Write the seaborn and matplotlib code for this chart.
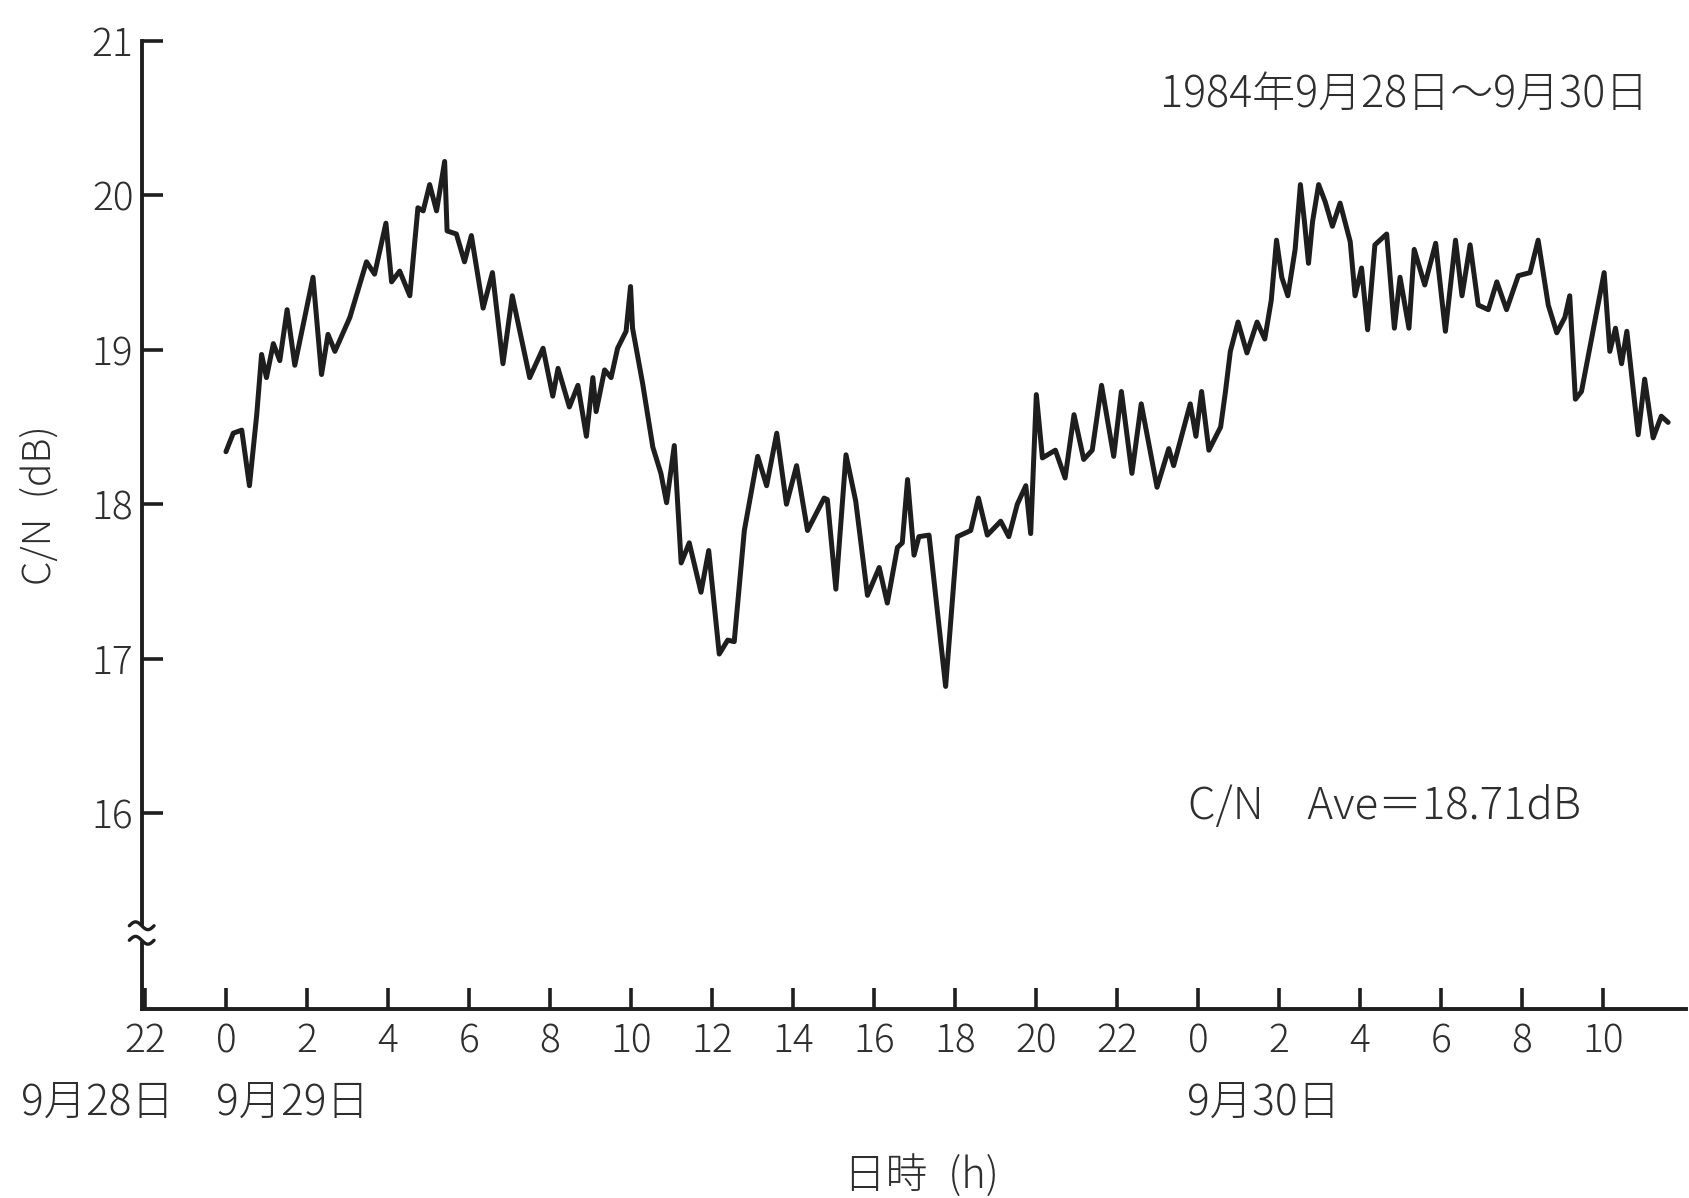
import matplotlib
matplotlib.use("Agg")
import matplotlib.pyplot as plt
import matplotlib.transforms as mtransforms
import numpy as np
import pandas as pd
import seaborn as sns

# C/N readings, 29 Sept 1984 (clock hours) ------------------------------
hours_29 = [
    0.00, 0.18, 0.39, 0.58, 0.76, 0.88, 1.00, 1.17, 1.33, 1.51, 1.70, 2.15,
    2.36, 2.52, 2.69, 3.06, 3.47, 3.67, 3.95, 4.09, 4.29, 4.54, 4.74, 4.87,
    5.03, 5.20, 5.40, 5.46, 5.69, 5.89, 6.06, 6.35, 6.58, 6.84, 7.07, 7.50,
    7.83, 8.07, 8.20, 8.48, 8.69, 8.90, 9.06, 9.14, 9.35, 9.51, 9.67, 9.88,
    9.99, 10.04, 10.29, 10.54, 10.74, 10.88, 11.07, 11.24, 11.44, 11.73,
    11.92, 12.18, 12.39, 12.55, 12.80, 13.13, 13.35, 13.60, 13.84, 14.09,
    14.36, 14.77, 14.85, 15.06, 15.31, 15.55, 15.84, 16.13, 16.33, 16.58,
    16.70, 16.83, 16.99, 17.11, 17.36, 17.77, 18.06, 18.39, 18.58, 18.80,
    19.13, 19.33, 19.54, 19.75, 19.87, 20.01, 20.16, 20.48, 20.72, 20.94,
    21.18, 21.39, 21.62, 21.92, 22.11, 22.37, 22.60, 22.99, 23.28, 23.40,
    23.81, 23.95,
]
cn_29 = [
    18.34, 18.46, 18.48, 18.12, 18.58, 18.97, 18.82, 19.04, 18.93, 19.26, 18.90, 19.47,
    18.84, 19.10, 18.99, 19.21, 19.57, 19.49, 19.82, 19.44, 19.51, 19.35, 19.92, 19.90,
    20.07, 19.90, 20.22, 19.77, 19.75, 19.57, 19.74, 19.27, 19.50, 18.91, 19.35, 18.82,
    19.01, 18.70, 18.88, 18.63, 18.77, 18.44, 18.82, 18.60, 18.87, 18.82, 19.01, 19.12,
    19.41, 19.14, 18.78, 18.37, 18.20, 18.01, 18.38, 17.62, 17.75, 17.43,
    17.70, 17.03, 17.12, 17.11, 17.83, 18.31, 18.12, 18.46, 18.00, 18.25,
    17.83, 18.04, 18.03, 17.45, 18.32, 18.02, 17.41, 17.59, 17.36, 17.72,
    17.75, 18.16, 17.67, 17.79, 17.80, 16.82, 17.79, 17.83, 18.04, 17.80,
    17.89, 17.79, 18.00, 18.12, 17.81, 18.71, 18.30, 18.35, 18.17, 18.58,
    18.29, 18.35, 18.77, 18.31, 18.73, 18.20, 18.65, 18.11, 18.36, 18.25,
    18.65, 18.44,
]

# C/N readings, 30 Sept 1984 (clock hours) ------------------------------
hours_30 = [
    0.09, 0.27, 0.56, 0.68, 0.80, 0.99, 1.21, 1.46, 1.65, 1.81, 1.94, 2.07,
    2.22, 2.40, 2.53, 2.63, 2.73, 2.83, 2.98, 3.14, 3.32, 3.51, 3.76, 3.88,
    4.04, 4.19, 4.37, 4.66, 4.85, 4.99, 5.21, 5.34, 5.60, 5.87, 6.11, 6.36,
    6.52, 6.72, 6.92, 7.17, 7.38, 7.62, 7.91, 8.20, 8.40, 8.65, 8.86, 9.06,
    9.18, 9.32, 9.47, 10.03, 10.17, 10.31, 10.46, 10.59, 10.87, 11.03, 11.24,
    11.44, 11.61,
]
cn_30 = [
    18.73, 18.35, 18.50, 18.73, 18.99, 19.18, 18.98, 19.18, 19.07, 19.32, 19.71, 19.47,
    19.35, 19.65, 20.07, 19.83, 19.56, 19.83, 20.07, 19.96, 19.80, 19.95, 19.70, 19.35,
    19.53, 19.13, 19.68, 19.75, 19.14, 19.47, 19.14, 19.65, 19.42, 19.69, 19.12, 19.71,
    19.35, 19.68, 19.29, 19.26, 19.44, 19.26, 19.48, 19.50, 19.71, 19.29, 19.11, 19.21,
    19.35, 18.68, 18.73, 19.50, 18.99, 19.14, 18.91, 19.12, 18.45, 18.81, 18.43,
    18.57, 18.53,
]

# Axis ticks: hours since midnight of 29 Sept, labelled by clock hour
tick_hours = list(range(-2, 35, 2))
tick_labels = ["22"] + [str(h) for h in range(0, 24, 2)] + [str(h) for h in range(0, 12, 2)]
y_ticks = [16, 17, 18, 19, 20, 21]

date_labels = ["9月28日", "9月29日", "9月30日"]
date_label_x = [-5.05, -0.25, 23.72]

df = pd.DataFrame({
    "elapsed": hours_29 + [h + 24 for h in hours_30],
    "cn": cn_29 + cn_30,
})

sns.set_theme(style="ticks")
plt.rcParams["font.family"] = ["Noto Sans CJK JP", "DejaVu Sans"]
plt.rcParams["font.weight"] = "light"
ink = "#1e1e1e"
txt = "#2e2e2e"

fig = plt.figure(figsize=(16.89, 11.98), dpi=100)
ax = fig.add_axes([0.0839, 0.15776, 0.9143, 0.80802])

sns.lineplot(data=df, x="elapsed", y="cn", ax=ax, color=ink,
             linewidth=3.6, estimator=None, sort=True)

ax.set_xlim(-2.08, 36.05)
ax.set_ylim(14.731, 21.0)
ax.set_xticks(tick_hours)
ax.set_xticklabels(tick_labels)
ax.set_yticks(y_ticks)
ax.set_yticklabels([str(v) for v in y_ticks])
ax.set_xlabel("")
ax.set_ylabel("")

for side in ("top", "right"):
    ax.spines[side].set_visible(False)
for side in ("left", "bottom"):
    ax.spines[side].set_linewidth(2.8)
    ax.spines[side].set_color(ink)

ax.tick_params(axis="both", direction="in", length=15, width=2.6,
               color=ink, labelsize=28, labelcolor=txt)
ax.tick_params(axis="x", pad=9)
ax.tick_params(axis="y", pad=6)

# Break marks on the value axis
brk_y0, brk_y1 = 0.071, 0.086
ax.add_patch(plt.Rectangle((-0.01, brk_y0), 0.02, brk_y1 - brk_y0,
                           transform=ax.transAxes, color="white",
                           clip_on=False, zorder=5))
t = np.linspace(-1, 1, 40)
for yc in (brk_y1, brk_y0):
    ax.plot(0.008 * t, yc - 0.004 * np.sin(np.pi * t),
            transform=ax.transAxes, color=ink, lw=2.4,
            clip_on=False, zorder=6)

# Annotations
fig.text(0.976, 0.921, "1984年9月28日～9月30日", ha="right", va="center",
         fontsize=31, color=txt)
fig.text(0.7033, 0.327, "C/N\u3000Ave＝18.71dB", ha="left", va="center",
         fontsize=31.5, color=txt)

trans = mtransforms.blended_transform_factory(ax.transData, fig.transFigure)
for x, lab in zip(date_label_x, date_labels):
    ax.text(x, 0.0785, lab, transform=trans, ha="left", va="center",
            fontsize=30.5, color=txt, clip_on=False)

fig.text(0.5453, 0.018, "日時\u2002(h)", ha="center", va="center",
         fontsize=30, color=txt)
fig.text(0.0237, 0.578, "C/N\u2002(dB)", ha="center", va="center",
         rotation=90, fontsize=28, color=txt)

fig.savefig("out.png", dpi=100, facecolor="white")
